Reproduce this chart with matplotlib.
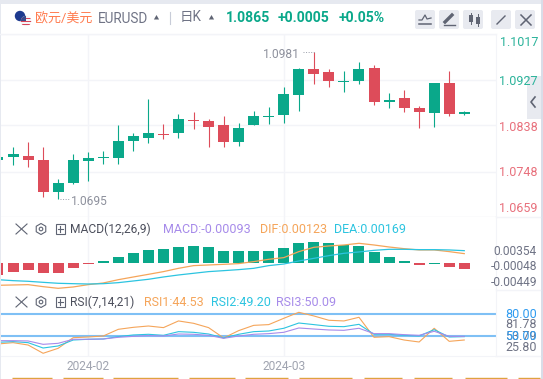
import matplotlib
matplotlib.use('Agg')
import matplotlib.pyplot as plt
from matplotlib.patches import Circle, FancyBboxPatch, Rectangle, RegularPolygon

plt.rcParams['font.family'] = ['Roboto', 'Noto Sans CJK SC', 'DejaVu Sans']

# candles, left to right, the first one is cut by the left edge
opens = [1.0771, 1.0777, 1.0779, 1.0771, 1.0707, 1.0726, 1.0769, 1.0775, 1.0775, 1.0807, 1.0814,
         1.0822, 1.0824, 1.0848, 1.0846, 1.0838, 1.0805, 1.0838, 1.0854, 1.0858, 1.0897,
         1.0948, 1.0942, 1.0924, 1.0926, 1.0950, 1.0883, 1.0891, 1.0873, 1.0863, 1.0922, 1.0860]
closes = [1.0777, 1.0783, 1.0771, 1.0707, 1.0726, 1.0771, 1.0775, 1.0777, 1.0807, 1.0818, 1.0824,
          1.0820, 1.0850, 1.0846, 1.0836, 1.0805, 1.0834, 1.0856, 1.0856, 1.0899, 1.0948,
          1.0938, 1.0926, 1.0926, 1.0948, 1.0883, 1.0887, 1.0873, 1.0865, 1.0922, 1.0860, 1.0865]
highs = [1.0779, 1.0795, 1.0805, 1.0795, 1.0734, 1.0783, 1.0787, 1.0789, 1.0838, 1.0824, 1.0889,
         1.0840, 1.0860, 1.0865, 1.0850, 1.0856, 1.0842, 1.0867, 1.0875, 1.0914, 1.0950,
         1.0981, 1.0948, 1.0944, 1.0963, 1.0956, 1.0901, 1.0907, 1.0877, 1.0922, 1.0944, 1.0867]
lows = [1.0769, 1.0760, 1.0756, 1.0699, 1.0695, 1.0724, 1.0730, 1.0762, 1.0762, 1.0789, 1.0803,
        1.0811, 1.0813, 1.0832, 1.0795, 1.0795, 1.0797, 1.0838, 1.0840, 1.0842, 1.0867,
        1.0920, 1.0914, 1.0903, 1.0920, 1.0879, 1.0873, 1.0865, 1.0834, 1.0836, 1.0856, 1.0858]
price_ticks = [1.1017, 1.0927, 1.0838, 1.0748, 1.0659]

macd_bars = [-0.00186, -0.0014, -0.00109, -0.00155, -0.00155, -0.00078, -0.00016, 0.00031, 0.00093,
             0.00155, 0.00202, 0.00217, 0.00248, 0.00264, 0.00248, 0.00186, 0.00186, 0.00186,
             0.00186, 0.00233, 0.0031, 0.00326, 0.0031, 0.00279, 0.00264, 0.00171, 0.00093,
             0.00031, -0.00031, -0.00016, -0.00062, -0.00093]
dif = [-0.00346, -0.00341, -0.00336, -0.00367, -0.00393, -0.00372, -0.00336, -0.0031, -0.00259,
       -0.00217, -0.00176, -0.00134, -0.00083, -0.00041, -0.00031, -0.00021, -0.0001, 0.00021,
       0.00057, 0.00083, 0.00176, 0.00243, 0.00264, 0.00279, 0.00305, 0.00279, 0.00248,
       0.00222, 0.00202, 0.00202, 0.00176, 0.00145]
dea = [-0.00259, -0.00274, -0.00284, -0.003, -0.00315, -0.00321, -0.00326, -0.00321, -0.00305,
       -0.00279, -0.00253, -0.00217, -0.00186, -0.0016, -0.00134, -0.00119, -0.00103, -0.00083,
       -0.00041, -0.00016, 0.00031, 0.00072, 0.00114, 0.0015, 0.00171, 0.00196, 0.00212,
       0.00212, 0.00207, 0.00207, 0.00202, 0.00191]

rsi1 = [39.1, 40.9, 37.7, 26.4, 33.2, 47.7, 48.6, 50.0, 59.1, 61.8, 63.6, 61.4, 70.5, 67.3, 61.4, 47.3,
        57.3, 64.5, 65.5, 74.1, 82.3, 77.3, 71.4, 70.5, 75.5, 48.2, 49.1, 44.5, 41.8, 60.5, 42.7, 44.5]
rsi2 = [41.4, 42.3, 40.9, 33.6, 36.4, 44.5, 45.5, 45.9, 49.1, 51.4, 52.3, 50.9, 55.9, 55.0, 52.7, 47.3,
        52.3, 55.9, 56.8, 60.5, 67.7, 65.5, 63.2, 62.7, 65.9, 52.3, 52.3, 50.9, 50.0, 58.6, 48.6, 49.1]
rsi3 = [43.6, 43.6, 43.2, 38.6, 40.0, 45.5, 45.5, 45.9, 48.2, 49.5, 50.5, 50.0, 52.7, 52.3, 50.9, 46.8,
        50.0, 52.3, 53.2, 55.0, 60.9, 59.5, 58.2, 57.7, 60.5, 53.2, 53.2, 51.8, 50.9, 56.4, 49.5, 49.5]
rsi_levels = [80, 50]

date_ticks = [6, 19]
date_labels = ['2024-02', '2024-03']

GREEN = '#0aa88a'
RED = '#dd4c5a'
ORANGE = '#f5a55a'
CYAN = '#2cc4e0'
PURPLE = '#a78bea'
BLUE = '#2f9bf0'
GRID = '#f3f4f8'
GRAY = '#6f7385'
ICON = '#5f6473'
W, H = 543, 379
PX = 72 / 100  # one pixel in points


def fs(px):
    return px * PX


def pane(top, bottom, ymin, ymax):
    ax = fig.add_axes([0, 1 - bottom / H, 496 / W, (bottom - top) / H])
    ax.set_xlim(0.133, 33.11)
    ax.set_ylim(ymin, ymax)
    ax.tick_params(length=0, labelleft=False, labelbottom=False)
    ax.set_xticks(date_ticks)
    for s in ax.spines.values():
        s.set_visible(False)
    ax.spines['bottom'].set_visible(True)
    ax.spines['bottom'].set_color(GRID)
    ax.spines['right'].set_visible(True)
    ax.spines['right'].set_color(GRID)
    ax.set_axisbelow(True)
    ax.grid(axis='x', color=GRID, lw=1.0)
    return ax


fig = plt.figure(figsize=(W / 100, H / 100), dpi=100)
idx = list(range(len(opens)))

# price pane
ax1 = pane(34, 217, 1.0659, 1.1017)
ax1.set_yticks(price_ticks)
ax1.grid(axis='y', color=GRID, lw=1.0)
for i in idx:
    col = GREEN if closes[i] >= opens[i] else RED
    ax1.vlines(i, lows[i], highs[i], color=col, lw=0.8)
    ax1.bar(i, max(abs(closes[i] - opens[i]), 0.0002), bottom=min(opens[i], closes[i]),
            width=0.73, color=col)
ax1.plot([20.3, 21.1], [1.0981, 1.0981], color='#9a9eaa', lw=0.7, ls=':')
ax1.plot([4.1, 4.8], [1.0695, 1.0695], color='#9a9eaa', lw=0.7, ls=':')

# macd pane
ax2 = pane(217, 290, -0.00419, 0.00713)
bar_cols = [GREEN if v > 0 else RED for v in macd_bars]
bar_cols[29] = GREEN
ax2.bar(idx, macd_bars, width=0.73, color=bar_cols)
ax2.plot(idx, dif, color=ORANGE, lw=0.9)
ax2.plot(idx, dea, color=CYAN, lw=0.9)

# rsi pane
ax3 = pane(290, 356, 22.7, 112.7)
ax3.tick_params(labelbottom=True, labelsize=fs(12), labelcolor='#a0a4b0', pad=3)
ax3.set_xticklabels(date_labels)
for lv in rsi_levels:
    ax3.axhline(lv, color='#7fc0f5', lw=1.5)
ax3.plot(idx, rsi1, color=ORANGE, lw=0.8)
ax3.plot(idx, rsi2, color=CYAN, lw=0.8)
ax3.plot(idx, rsi3, color=PURPLE, lw=0.8)

# everything around the panes, in pixels
top = fig.add_axes([0, 0, 1, 1], zorder=5)
top.set_xlim(0, W)
top.set_ylim(H, 0)
top.axis('off')
top.patch.set_alpha(0)

top.add_patch(Rectangle((0, 0), W, 3.5, color='#e6e9f0', lw=0))
top.add_patch(Rectangle((0, 0), 1.2, H, color='#e6e9f0', lw=0))
top.add_patch(Rectangle((540.5, 0), 2.5, H, color='#d9dde8', lw=0))
top.plot([0, 496], [34, 34], color=GRID, lw=1)
top.plot([496, 540], [217, 217], color=GRID, lw=1)
top.plot([496, 540], [290, 290], color=GRID, lw=1)
top.plot([496, 540], [356, 356], color=GRID, lw=1)
top.add_patch(Rectangle((527, 76), 13.5, 43, color='#e8eaf0', lw=0))
top.plot([535, 531, 535], [97, 102, 107], color=ICON, lw=1.2)

# flags
eu = Circle((20, 16), 5.2, color='#1d3a8f', lw=0)
top.add_patch(eu)
us = Circle((26, 21), 5.2, color='#f4f4f6', lw=0)
top.add_patch(us)
for y in [17.5, 20.5, 23.5]:
    st = Rectangle((20, y), 12, 1.6, color='#d9455a', lw=0)
    top.add_patch(st)
    st.set_clip_path(us)
cnt = Rectangle((20, 15), 6, 6, color='#3b4a8a', lw=0)
top.add_patch(cnt)
cnt.set_clip_path(us)

# header
top.text(35, 18, '欧元/美元', color='#ff7a4d', fontsize=fs(13), va='center')
top.text(97.5, 19, 'EURUSD', color=GRAY, fontsize=fs(13.5), va='center')
top.add_patch(RegularPolygon((156.5, 18), 3, radius=3, orientation=3.14159, color=ICON, lw=0))
top.plot([170, 170], [12, 24], color='#c8ccd8', lw=0.8)
top.text(180, 17.5, '日K', color=GRAY, fontsize=fs(13.5), va='center')
top.add_patch(RegularPolygon((211.5, 18), 3, radius=3, orientation=3.14159, color=ICON, lw=0))
top.text(225.5, 17.5, '1.0865', color=GREEN, fontsize=fs(14), fontweight='bold', va='center')
top.text(278, 17.5, '+0.0005', color=GREEN, fontsize=fs(14), fontweight='bold', va='center')
top.text(339, 17.5, '+0.05%', color=GREEN, fontsize=fs(14), fontweight='bold', va='center')

# buttons on the right of the header
for x0 in [415, 439, 463, 491, 515]:
    top.add_patch(FancyBboxPatch((x0 + 2, 12), 16, 15, boxstyle='round,pad=2', color='#e8eaf0', lw=0))
top.plot([419, 422, 425, 427, 431], [20, 20, 15, 19, 18], color=ICON, lw=0.9)
top.plot([419, 431], [24, 24], color=ICON, lw=1.1)
top.plot([445, 452], [22, 15], color=ICON, lw=2.4)
top.plot([444, 455], [25, 25], color=ICON, lw=1.0)
top.add_patch(Rectangle((469, 15), 3.5, 7, color=ICON, lw=0))
top.add_patch(Rectangle((476, 17), 3.5, 7, color=ICON, lw=0))
top.plot([470.7, 470.7], [13, 24], color=ICON, lw=0.7)
top.plot([477.7, 477.7], [14, 26], color=ICON, lw=0.7)
top.plot([497, 505], [24, 16], color=ICON, lw=1.0)
top.plot([521, 531], [15, 25], color=ICON, lw=1.1)
top.plot([521, 531], [25, 15], color=ICON, lw=1.1)

# price axis labels, the outer ones sit inside the pane
top.text(538, 42.5, '1.1017', color='#2bb39a', fontsize=fs(12.5), ha='right', va='center')
top.text(538, 81.5, '1.0927', color='#2bb39a', fontsize=fs(12.5), ha='right', va='center')
top.text(538, 127.5, '1.0838', color='#e8707c', fontsize=fs(12.5), ha='right', va='center')
top.text(538, 173, '1.0748', color='#e8707c', fontsize=fs(12.5), ha='right', va='center')
top.text(538, 208, '1.0659', color='#e8707c', fontsize=fs(12.5), ha='right', va='center')
top.text(263, 54.5, '1.0981', color='#8d909c', fontsize=fs(12), va='center')
top.text(71, 201.5, '1.0695', color='#8d909c', fontsize=fs(12), va='center')


def pane_icons(y):
    top.plot([16, 27], [y - 5, y + 5], color=ICON, lw=0.8)
    top.plot([16, 27], [y + 5, y - 5], color=ICON, lw=0.8)
    top.add_patch(RegularPolygon((41, y), 6, radius=5.5, fill=False, ec=ICON, lw=0.8))
    top.add_patch(Circle((41, y), 1.8, fill=False, ec=ICON, lw=0.8))
    top.add_patch(Rectangle((55.5, y - 5), 9.5, 10, fill=False, ec=ICON, lw=0.8))
    top.plot([57.5, 63], [y, y], color=ICON, lw=0.8)
    top.plot([60.2, 60.2], [y - 3, y + 3], color=ICON, lw=0.8)


# macd header and labels
pane_icons(229)
top.text(70, 229.5, 'MACD(12,26,9)', color='#4c4f5c', fontsize=fs(12), va='center')
top.text(163, 229.5, 'MACD:-0.00093', color=PURPLE, fontsize=fs(12.5), va='center')
top.text(260, 229.5, 'DIF:0.00123', color=ORANGE, fontsize=fs(12.5), va='center')
top.text(334, 229.5, 'DEA:0.00169', color=CYAN, fontsize=fs(12.5), va='center')
top.text(537, 251.7, '0.00354', color=GRAY, fontsize=fs(12), ha='right', va='center')
top.text(537, 266.8, '-0.00048', color=GRAY, fontsize=fs(12), ha='right', va='center')
top.text(537, 282.7, '-0.00449', color=GRAY, fontsize=fs(12), ha='right', va='center')

# rsi header and labels
pane_icons(302)
top.text(70, 302.5, 'RSI(7,14,21)', color='#4c4f5c', fontsize=fs(12), va='center')
top.text(144, 302.5, 'RSI1:44.53', color=ORANGE, fontsize=fs(12.5), va='center')
top.text(211, 302.5, 'RSI2:49.20', color=CYAN, fontsize=fs(12.5), va='center')
top.text(276, 302.5, 'RSI3:50.09', color=PURPLE, fontsize=fs(12.5), va='center')
top.text(537, 324.7, '81.78', color=GRAY, fontsize=fs(12.5), ha='right', va='center')
top.text(537, 347.3, '25.80', color=GRAY, fontsize=fs(12.5), ha='right', va='center')
top.text(537, 336, '53.79', color=GRAY, fontsize=fs(12.5), ha='right', va='center')
top.text(537, 314, '80.00', color=BLUE, fontsize=fs(12.5), ha='right', va='center')
top.text(537, 336, '50.00', color=BLUE, fontsize=fs(12.5), ha='right', va='center')

# the strip of the next pane at the very bottom
for a, b in [(12, 52), (63, 103), (113, 178), (189, 235), (245, 288), (299, 352),
             (364, 402), (414, 452), (465, 507), (518, 540)]:
    top.plot([a, b], [378.4, 378.4], color='#dfa23f', lw=1.0, solid_capstyle='butt')

fig.savefig('out.png', dpi=100)
